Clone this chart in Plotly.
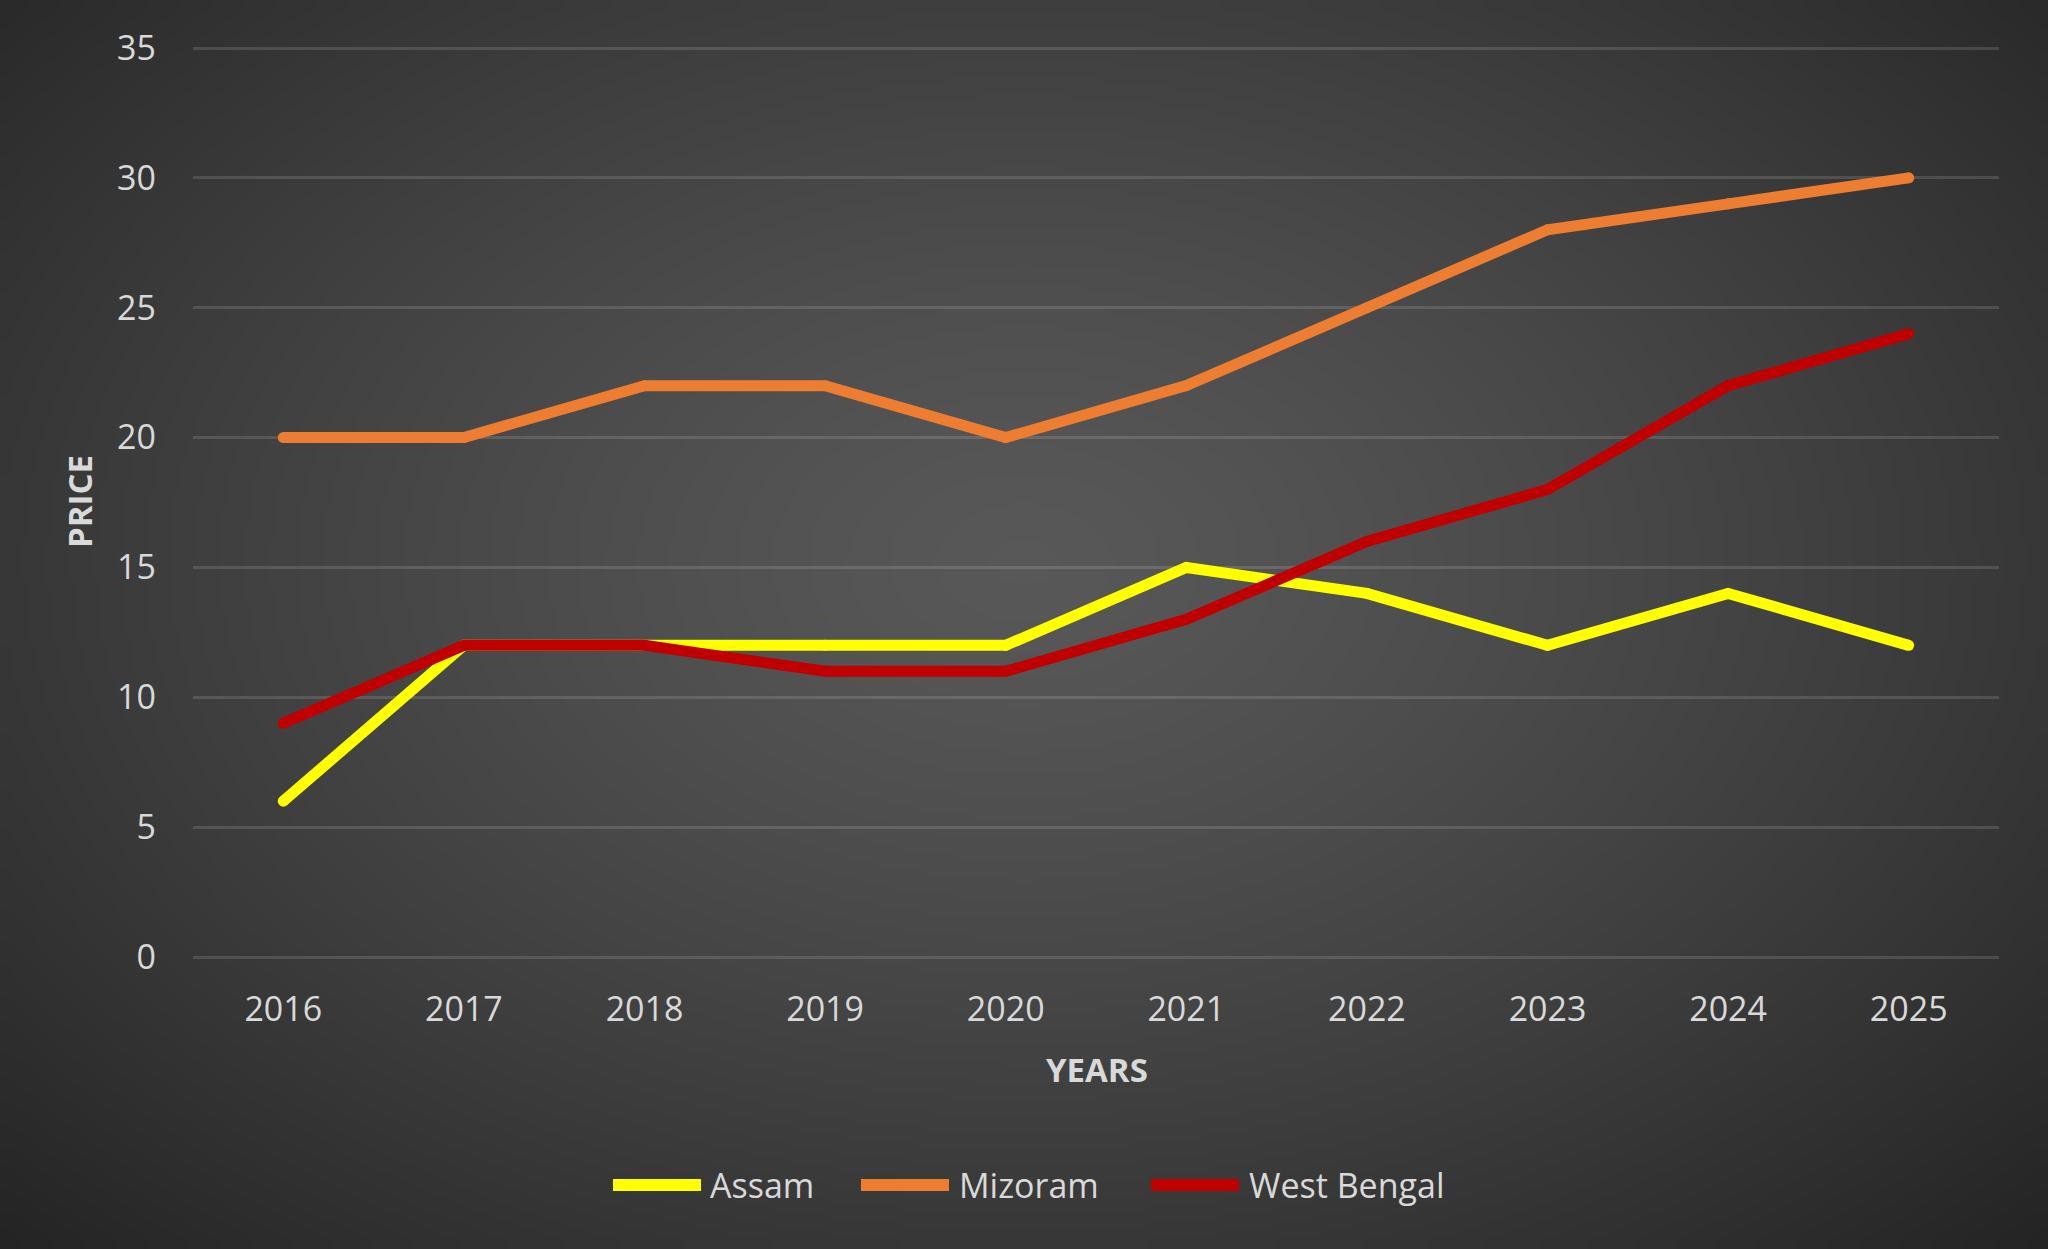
import base64
import struct
import zlib

import plotly.graph_objects as go

W, H = 2048, 1249

years = ["2016", "2017", "2018", "2019", "2020", "2021", "2022", "2023", "2024", "2025"]
assam = [6, 12, 12, 12, 12, 15, 14, 12, 14, 12]
mizoram = [20, 20, 22, 22, 20, 22, 25, 28, 29, 30]
west_bengal = [9, 12, 12, 11, 11, 13, 16, 18, 22, 24]
series_names = ["Assam", "Mizoram", "West Bengal"]
series_colors = ["#FFFF00", "#ED7D31", "#C00000"]
y_ticks = [0, 5, 10, 15, 20, 25, 30, 35]


def gradient_png(w, h, c_in, c_out, cx=0.5, cy=0.45):
    rows = []
    for j in range(h):
        row = bytearray([0])
        for i in range(w):
            dx = (i / (w - 1) - cx) / 0.5
            dy = (j / (h - 1) - cy) / 0.55
            d = min(1.0, (dx * dx + dy * dy) ** 0.5 / 1.414)
            t = d ** 1.3
            v = int(round(c_in + (c_out - c_in) * t))
            row += bytes([v, v, v])
        rows.append(bytes(row))
    raw = b"".join(rows)

    def chunk(tag, data):
        c = struct.pack(">I", len(data)) + tag + data
        return c + struct.pack(">I", zlib.crc32(tag + data) & 0xFFFFFFFF)

    png = b"\x89PNG\r\n\x1a\n"
    png += chunk(b"IHDR", struct.pack(">IIBBBBB", w, h, 8, 2, 0, 0, 0))
    png += chunk(b"IDAT", zlib.compress(raw, 9))
    png += chunk(b"IEND", b"")
    return "data:image/png;base64," + base64.b64encode(png).decode()


bg = gradient_png(256, 156, 0x58, 0x24)

fig = go.Figure()
for name, vals, col in zip(series_names, [assam, mizoram, west_bengal], series_colors):
    fig.add_trace(go.Scatter(
        x=years, y=vals, name=name, mode="lines+markers",
        line=dict(color=col, width=11),
        marker=dict(color=col, size=11, line=dict(width=0)),
        showlegend=False,
    ))

# y range slightly padded so the 0 and 35 gridlines are drawn
pad = 0.1
ppu = (957 - 48) / 35.0
x0p, x1p = 193 / W, 1999 / W
y0p = 1 - (957 + pad * ppu) / H
y1p = 1 - (48 - pad * ppu) / H

tick_font = dict(family="Open Sans", size=34, color="#D9D9D9")
title_font = dict(family="Open Sans", size=33, color="#D9D9D9")

fig.update_layout(
    width=W, height=H,
    margin=dict(l=0, r=0, t=0, b=0, autoexpand=False),
    paper_bgcolor="#3a3a3a",
    plot_bgcolor="rgba(0,0,0,0)",
    images=[dict(source=bg, xref="paper", yref="paper", x=0, y=1,
                 sizex=1, sizey=1, sizing="stretch", layer="below",
                 xanchor="left", yanchor="top")],
    xaxis=dict(domain=[x0p, x1p], type="category", range=[-0.5, 9.5],
               showgrid=False, zeroline=False, showline=False, automargin=False,
               tickfont=tick_font, ticks="", ticklabelstandoff=26),
    yaxis=dict(domain=[y0p, y1p], range=[-pad, 35 + pad], tickvals=y_ticks,
               showgrid=True, gridcolor="rgba(255,255,255,0.13)", gridwidth=3,
               zeroline=False, showline=False, automargin=False,
               tickfont=tick_font, ticks="", ticklabelstandoff=36),
    showlegend=False,
)

annotations = [
    dict(text="<b>YEARS</b>", x=1097 / W, y=1 - 1069 / H, xref="paper", yref="paper",
         showarrow=False, font=title_font, xanchor="center", yanchor="middle"),
    dict(text="<b>PRICE</b>", x=79 / W, y=1 - 502 / H, xref="paper", yref="paper",
         showarrow=False, font=title_font, textangle=-90, xanchor="center", yanchor="middle"),
]

# custom legend
leg_y = 1 - 1185 / H
leg_lines = [(613, 701, 708), (861, 949, 957), (1151, 1239, 1247)]
shapes = []
for (lx0, lx1, tx), name, col in zip(leg_lines, series_names, series_colors):
    shapes.append(dict(type="line", xref="paper", yref="paper",
                       x0=lx0 / W, x1=lx1 / W, y0=leg_y, y1=leg_y,
                       line=dict(color=col, width=12)))
    annotations.append(dict(text=name, x=tx / W, y=leg_y, xref="paper", yref="paper",
                            showarrow=False, font=tick_font,
                            xanchor="left", yanchor="middle"))

fig.update_layout(annotations=annotations, shapes=shapes)

fig.write_html("out.html")
